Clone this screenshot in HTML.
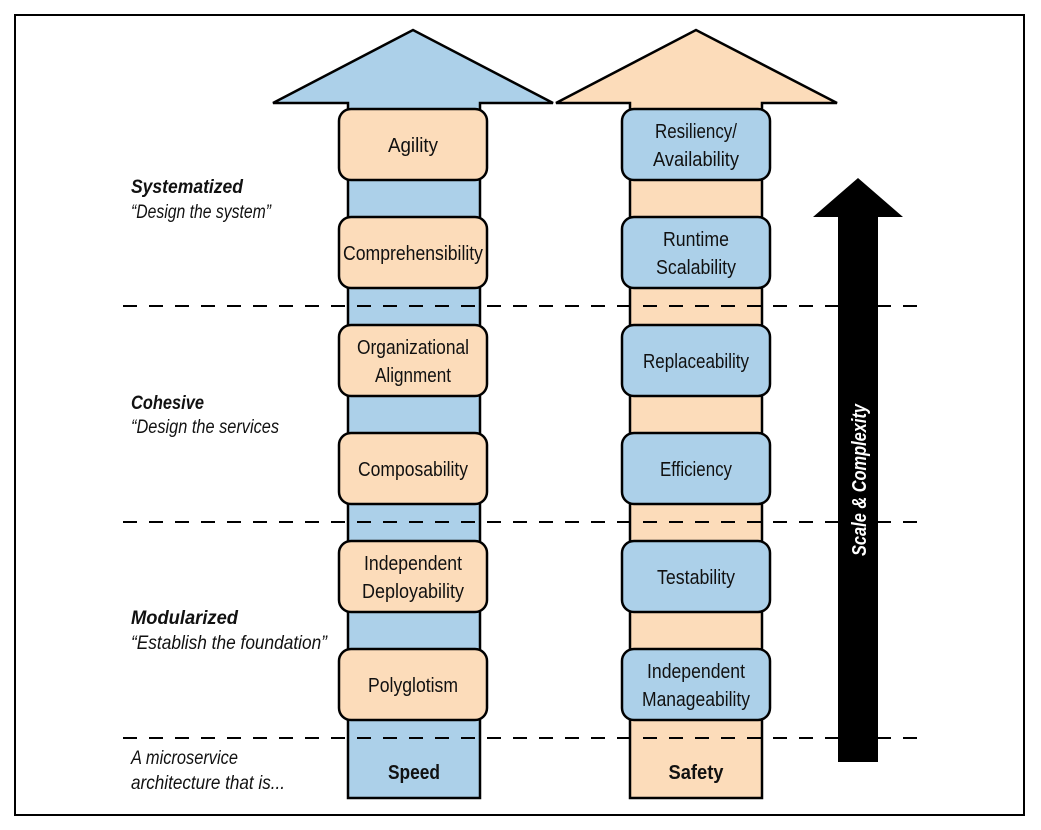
<!DOCTYPE html>
<html><head><meta charset="utf-8"><style>
html,body{margin:0;padding:0;background:#fff;}
svg{display:block;}
text{font-family:"Liberation Sans",sans-serif;}
</style></head><body>
<svg width="1041" height="830" viewBox="0 0 1041 830" xmlns="http://www.w3.org/2000/svg">
<rect x="15" y="15" width="1009" height="800" fill="#fff" stroke="#000" stroke-width="2"/>
<!-- blue arrow -->
<polygon points="348,798 348,103 273,103 413,30 553,103 480,103 480,798" fill="#acd0e9" stroke="#000" stroke-width="2.5" stroke-linejoin="miter"/>
<!-- orange arrow -->
<polygon points="630,798 630,103 556,103 696,30 837,103 762,103 762,798" fill="#fcdcba" stroke="#000" stroke-width="2.5"/>
<!-- black arrow -->
<polygon points="838,762 838,217 813,217 858,178 903,217 878,217 878,762" fill="#000"/>
<!-- dashed lines -->
<g stroke="#000" stroke-width="2" stroke-dasharray="14 12">
<line x1="123" y1="306" x2="918" y2="306"/>
<line x1="123" y1="522" x2="918" y2="522"/>
<line x1="123" y1="738" x2="918" y2="738"/>
</g>
<rect x="838" y="300" width="40" height="12" fill="#000"/>
<rect x="838" y="516" width="40" height="12" fill="#000"/>
<rect x="838" y="732" width="40" height="12" fill="#000"/>
<text transform="translate(866,480) rotate(-90)" text-anchor="middle" fill="#fff" font-size="20" font-weight="bold" font-style="italic" textLength="152" lengthAdjust="spacingAndGlyphs">Scale &amp; Complexity</text>
<!-- left boxes -->
<g fill="#fcdcba" stroke="#000" stroke-width="2.5">
<rect x="339" y="109" width="148" height="71" rx="12"/>
<rect x="339" y="217" width="148" height="71" rx="12"/>
<rect x="339" y="325" width="148" height="71" rx="12"/>
<rect x="339" y="433" width="148" height="71" rx="12"/>
<rect x="339" y="541" width="148" height="71" rx="12"/>
<rect x="339" y="649" width="148" height="71" rx="12"/>
</g>
<g fill="#acd0e9" stroke="#000" stroke-width="2.5">
<rect x="622" y="109" width="148" height="71" rx="12"/>
<rect x="622" y="217" width="148" height="71" rx="12"/>
<rect x="622" y="325" width="148" height="71" rx="12"/>
<rect x="622" y="433" width="148" height="71" rx="12"/>
<rect x="622" y="541" width="148" height="71" rx="12"/>
<rect x="622" y="649" width="148" height="71" rx="12"/>
</g>
<g font-size="20" text-anchor="middle" fill="#111">
<text x="413" y="152" textLength="50" lengthAdjust="spacingAndGlyphs">Agility</text>
<text x="413" y="260" textLength="140" lengthAdjust="spacingAndGlyphs">Comprehensibility</text>
<text x="413" y="354" textLength="112" lengthAdjust="spacingAndGlyphs">Organizational</text>
<text x="413" y="382" textLength="76" lengthAdjust="spacingAndGlyphs">Alignment</text>
<text x="413" y="476" textLength="110" lengthAdjust="spacingAndGlyphs">Composability</text>
<text x="413" y="570" textLength="98" lengthAdjust="spacingAndGlyphs">Independent</text>
<text x="413" y="598" textLength="102" lengthAdjust="spacingAndGlyphs">Deployability</text>
<text x="413" y="692" textLength="90" lengthAdjust="spacingAndGlyphs">Polyglotism</text>
<text x="696" y="138" textLength="82" lengthAdjust="spacingAndGlyphs">Resiliency/</text>
<text x="696" y="166" textLength="86" lengthAdjust="spacingAndGlyphs">Availability</text>
<text x="696" y="246" textLength="66" lengthAdjust="spacingAndGlyphs">Runtime</text>
<text x="696" y="274" textLength="80" lengthAdjust="spacingAndGlyphs">Scalability</text>
<text x="696" y="368" textLength="106" lengthAdjust="spacingAndGlyphs">Replaceability</text>
<text x="696" y="476" textLength="72" lengthAdjust="spacingAndGlyphs">Efficiency</text>
<text x="696" y="584" textLength="78" lengthAdjust="spacingAndGlyphs">Testability</text>
<text x="696" y="678" textLength="98" lengthAdjust="spacingAndGlyphs">Independent</text>
<text x="696" y="706" textLength="108" lengthAdjust="spacingAndGlyphs">Manageability</text>
<text x="414" y="779" font-weight="bold" textLength="52" lengthAdjust="spacingAndGlyphs">Speed</text>
<text x="696" y="779" font-weight="bold" textLength="55" lengthAdjust="spacingAndGlyphs">Safety</text>
</g>
<g font-size="19" font-style="italic" fill="#111">
<text x="131" y="193" font-weight="bold" textLength="112" lengthAdjust="spacingAndGlyphs">Systematized</text>
<text x="131" y="218" textLength="140" lengthAdjust="spacingAndGlyphs">“Design the system”</text>
<text x="131" y="409" font-weight="bold" textLength="73" lengthAdjust="spacingAndGlyphs">Cohesive</text>
<text x="131" y="433" textLength="148" lengthAdjust="spacingAndGlyphs">“Design the services</text>
<text x="131" y="624" font-weight="bold" textLength="107" lengthAdjust="spacingAndGlyphs">Modularized</text>
<text x="131" y="649" textLength="196" lengthAdjust="spacingAndGlyphs">“Establish the foundation”</text>
<text x="131" y="764" textLength="107" lengthAdjust="spacingAndGlyphs">A microservice</text>
<text x="131" y="789" textLength="154" lengthAdjust="spacingAndGlyphs">architecture that is...</text>
</g>
</svg>
</body></html>
